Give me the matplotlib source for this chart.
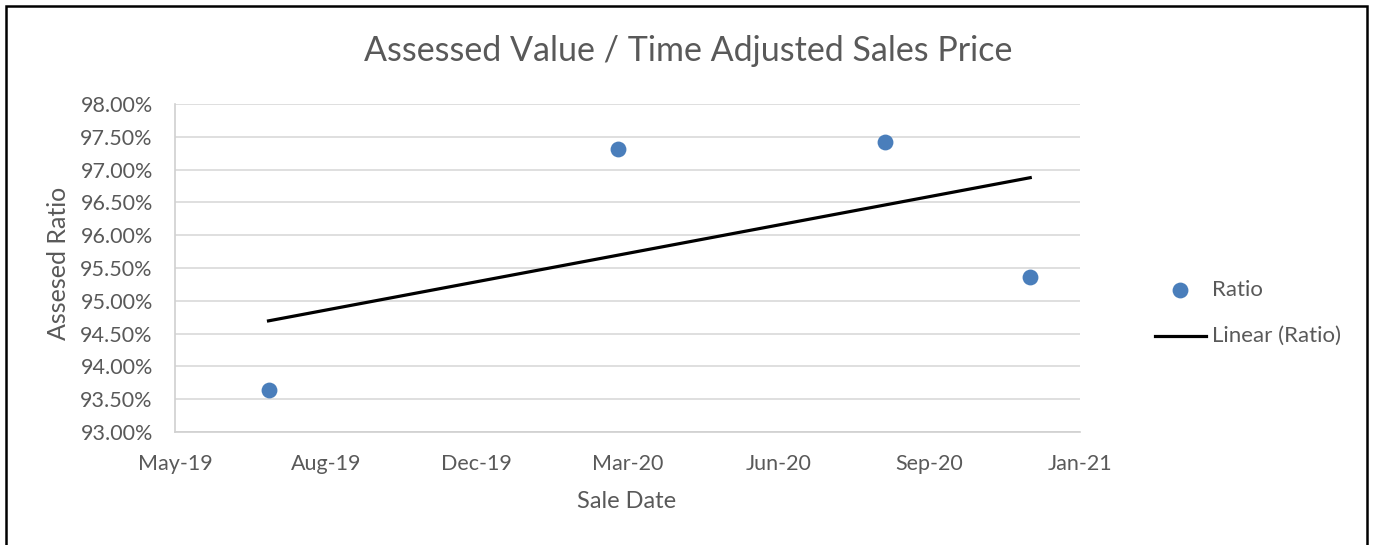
import matplotlib
matplotlib.use("Agg")
import matplotlib.pyplot as plt
import matplotlib.dates as mdates
from matplotlib.patches import Rectangle
from matplotlib.lines import Line2D
import numpy as np
import datetime as dt

# Data
sale_dates = ["2019-07-16", "2020-03-04", "2020-08-28", "2020-12-02"]
ratios = [93.64, 97.31, 97.42, 95.36]
x_ticks = ["2019-05-15", "2019-08-23", "2019-12-01", "2020-03-10", "2020-06-18", "2020-09-26", "2021-01-04"]
y_ticks = [93.0, 93.5, 94.0, 94.5, 95.0, 95.5, 96.0, 96.5, 97.0, 97.5, 98.0]

FONT = "Lato"
TXT = "#595959"
plt.rcParams["font.family"] = [FONT, "DejaVu Sans"]

W, H = 1374, 545
fig = plt.figure(figsize=(W / 100, H / 100), dpi=100)

ax = fig.add_axes([175 / W, 1 - 432 / H, (1080 - 175) / W, (432 - 104) / H])

xd = [mdates.date2num(dt.datetime.fromisoformat(d)) for d in sale_dates]
xt = [mdates.date2num(dt.datetime.fromisoformat(d)) for d in x_ticks]

ax.scatter(xd, ratios, s=130, color="#4a7ebb", zorder=3, linewidths=0)

coef = np.polyfit(xd, ratios, 1)
xs = np.array([min(xd), max(xd)])
ax.plot(xs, np.polyval(coef, xs), color="black", lw=2.3, zorder=2)

ax.set_xlim(xt[0], xt[-1])
ax.set_ylim(y_ticks[0], y_ticks[-1])
ax.set_xticks(xt)
ax.set_xticklabels([dt.datetime.fromisoformat(d).strftime("%b-%y") for d in x_ticks])
ax.set_yticks(y_ticks)
ax.set_yticklabels([f"{v:.2f}%" for v in y_ticks])
ax.tick_params(length=0, labelsize=15.5, colors=TXT)
ax.tick_params(axis="y", pad=16)
ax.tick_params(axis="x", pad=16)

ax.grid(axis="y", color="#d9d9d9", lw=1.2)
ax.set_axisbelow(True)
for s in ["top", "right"]:
    ax.spines[s].set_visible(False)
for s in ["left", "bottom"]:
    ax.spines[s].set_color("#d0d0d0")
    ax.spines[s].set_linewidth(1.2)

fig.text(688 / W, 1 - 51 / H, "Assessed Value / Time Adjusted Sales Price",
         ha="center", va="center", fontsize=24.5, color=TXT)
fig.text(627 / W, 1 - 501 / H, "Sale Date", ha="center", va="center", fontsize=17, color=TXT)
fig.text(58 / W, 1 - 263 / H, "Assesed Ratio", ha="center", va="center", rotation=90,
         fontsize=18, color=TXT)

# Legend
fig.add_artist(Line2D([1180 / W], [1 - 290 / H], marker="o", markersize=11.4, color="#4a7ebb",
                      linestyle="none", markeredgewidth=0))
fig.add_artist(Line2D([1155 / W, 1206 / W], [1 - 336 / H, 1 - 336 / H], color="black", lw=2.3))
fig.text(1212 / W, 1 - 290 / H, "Ratio", ha="left", va="center", fontsize=16, color=TXT)
fig.text(1212 / W, 1 - 336 / H, "Linear (Ratio)", ha="left", va="center", fontsize=16, color=TXT)

# Border
fig.add_artist(Rectangle((6 / W, -0.05), (1367 - 6) / W, 1.05 - 6 / H, transform=fig.transFigure,
                         fill=False, edgecolor="black", lw=1.8))

fig.savefig("out.png", dpi=100)
